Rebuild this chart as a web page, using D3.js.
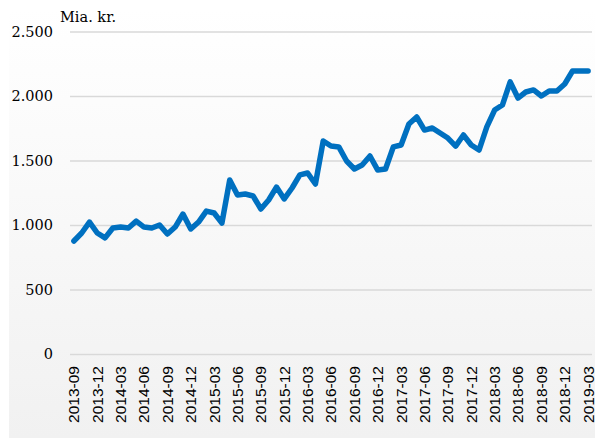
<!DOCTYPE html>
<html>
<head>
<meta charset="utf-8">
<script src="https://cdn.jsdelivr.net/npm/d3@7"></script>
<style>
  html, body { margin: 0; padding: 0; background: #ffffff; }
  svg { display: block; }
</style>
</head>
<body>
<svg id="chart" width="598" height="441"></svg>
<script>
// ---- data ----
const startYear = 2013, startMonth = 9, monthCount = 67;
const months = [];
for (let i = 0; i < monthCount; i++) {
  const m0 = startMonth - 1 + i;
  const y = startYear + Math.floor(m0 / 12);
  const m = (m0 % 12) + 1;
  months.push(y + "-" + String(m).padStart(2, "0"));
}
const values = [
  876, 938, 1023, 938, 900, 977, 984, 977, 1030, 984, 977, 1000,
  930, 984, 1085, 969, 1023, 1108, 1093, 1015, 1349, 1232, 1240, 1225,
  1124, 1194, 1294, 1202, 1287, 1388, 1403, 1318, 1651, 1612, 1605, 1496,
  1434, 1465, 1535, 1426, 1434, 1605, 1620, 1783, 1837, 1736, 1752, 1713,
  1674, 1612, 1698, 1620, 1581, 1760, 1891, 1930, 2109, 1984, 2031, 2047,
  2000, 2039, 2039, 2093, 2194, 2194, 2194
];
const yTicks = [0, 500, 1000, 1500, 2000, 2500];
const xTickLabels = months.filter((d, i) => i % 3 === 0);
const unitLabel = "Mia. kr.";

// ---- chart ----
const svg = d3.select("#chart");
const W = 598, H = 441;
const plot = { left: 70, right: 592, top: 31.5, bottom: 354 };

const defs = svg.append("defs");
const grad = defs.append("linearGradient").attr("id", "bg")
  .attr("x1", 0).attr("y1", 0).attr("x2", 0).attr("y2", 1);
grad.append("stop").attr("offset", "0%").attr("stop-color", "#ffffff");
grad.append("stop").attr("offset", "100%").attr("stop-color", "#f1f1f1");

svg.append("rect").attr("x", 9).attr("y", 9).attr("width", W - 12).attr("height", H - 12)
  .attr("fill", "url(#bg)");

const x = d3.scaleBand().domain(months).range([plot.left, plot.right]).padding(0);
const y = d3.scaleLinear().domain([0, 2500]).range([plot.bottom, plot.top]);

const locale = d3.formatLocale({ decimal: ",", thousands: ".", grouping: [3], currency: ["", ""] });
const fmt = locale.format(",d");

// gridlines
const yAxis = d3.axisLeft(y).tickValues(yTicks).tickFormat(fmt)
  .tickSize(-(plot.right - plot.left)).tickPadding(17);
const gy = svg.append("g").attr("transform", `translate(${plot.left},0)`).call(yAxis);
gy.select(".domain").remove();
gy.selectAll(".tick line").attr("stroke", "#d9d9d9").attr("stroke-width", 1.5);
gy.selectAll(".tick text")
  .attr("font-family", "'DejaVu Serif', serif").attr("font-size", "14.5px").attr("fill", "#000");

// x axis
const xAxis = d3.axisBottom(x).tickValues(xTickLabels).tickSize(0).tickPadding(0);
const gx = svg.append("g").attr("transform", `translate(0,${plot.bottom})`).call(xAxis);
gx.select(".domain").remove();
gx.selectAll(".tick text")
  .attr("font-family", "'Liberation Sans', Arial, sans-serif").attr("font-size", "15.5px").attr("fill", "#000")
  .attr("text-anchor", "end")
  .attr("dy", "0.35em")
  .attr("transform", "translate(0,12) rotate(-90)")
  .attr("x", 0).attr("y", 0);

// line
const line = d3.line()
  .x((d, i) => x(months[i]) + x.bandwidth() / 2)
  .y(d => y(d));
svg.append("path").datum(values)
  .attr("d", line)
  .attr("fill", "none")
  .attr("stroke", "#0070c0")
  .attr("stroke-width", 5.5)
  .attr("stroke-linejoin", "round")
  .attr("stroke-linecap", "round");

// unit label
svg.append("text").attr("x", 60).attr("y", 22)
  .attr("font-family", "'DejaVu Serif', serif").attr("font-size", "14.5px").attr("fill", "#000")
  .text(unitLabel);
</script>
</body>
</html>
